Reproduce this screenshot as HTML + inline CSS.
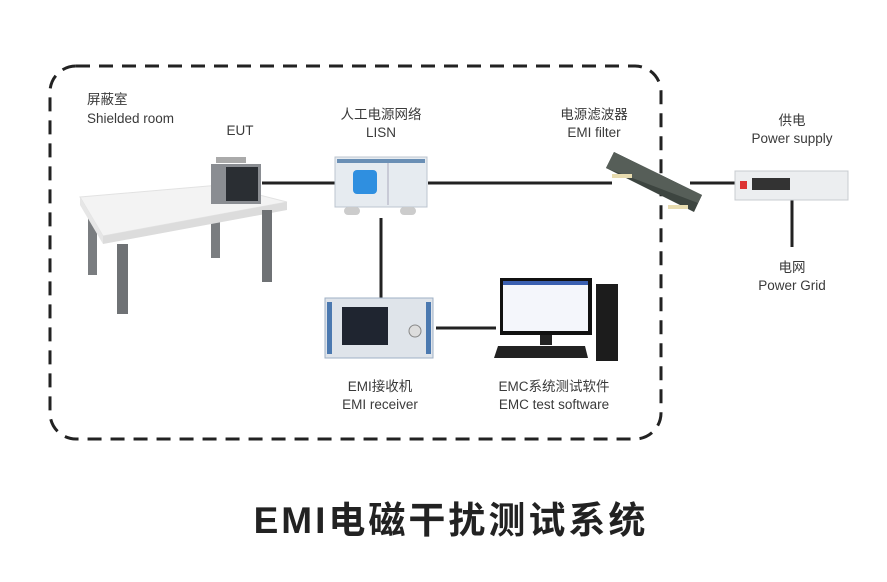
<!DOCTYPE html>
<html><head><meta charset="utf-8"><style>
html,body{margin:0;padding:0;background:#fff;}
svg{display:block;}
text{font-family:"Liberation Sans","Noto Sans CJK SC",sans-serif;fill:#3a3a3a;font-size:13.5px;}
</style></head><body>
<svg width="887" height="582" viewBox="0 0 887 582" xmlns="http://www.w3.org/2000/svg">
<rect x="50" y="66" width="611" height="373" rx="26" fill="none" stroke="#222" stroke-width="3" stroke-dasharray="14 9"/>
<g stroke="#222" stroke-width="3">
<line x1="262" y1="183" x2="335" y2="183"/>
<line x1="428" y1="183" x2="612" y2="183"/>
<line x1="690" y1="183" x2="735" y2="183"/>
<line x1="381" y1="218" x2="381" y2="298"/>
<line x1="436" y1="328" x2="496" y2="328"/>
<line x1="792" y1="200" x2="792" y2="247"/>
</g>
<g>
<rect x="88" y="205" width="9" height="70" fill="#7a7d80"/>
<rect x="211" y="212" width="9" height="46" fill="#7a7d80"/>
<polygon points="80,197 220,185 287,202 103,236" fill="#f3f3f3" stroke="#e2e2e2"/>
<polygon points="80,197 103,236 103,244 80,205" fill="#e6e6e6"/>
<polygon points="103,236 287,202 287,210 103,244" fill="#dcdcdc"/>
<rect x="117" y="244" width="11" height="70" fill="#6f7275"/>
<rect x="262" y="210" width="10" height="72" fill="#6f7275"/>
</g>
<rect x="211" y="164" width="50" height="40" fill="#8a8d92"/>
<rect x="226" y="167" width="32" height="34" fill="#2a2e33"/>
<rect x="216" y="157" width="30" height="6" fill="#aaa"/>
<rect x="335" y="157" width="92" height="50" fill="#e6ebf0" stroke="#bcc5cf"/>
<rect x="337" y="159" width="88" height="4" fill="#6a8fb5"/>
<line x1="388" y1="163" x2="388" y2="205" stroke="#aab"/>
<rect x="353" y="170" width="24" height="24" rx="4" fill="#2f8fe0"/>
<rect x="344" y="207" width="16" height="8" rx="4" fill="#ccc"/>
<rect x="400" y="207" width="16" height="8" rx="4" fill="#ccc"/>
<!-- filter -->
<polygon points="606,168 614,152 702,195 694,212" fill="#3d4540"/>
<polygon points="606,168 614,152 702,195 698,203" fill="#565e58"/>
<rect x="612" y="174" width="20" height="4" fill="#e8dcb0"/>
<rect x="668" y="205" width="20" height="4" fill="#e8dcb0"/>
<rect x="735" y="171" width="113" height="29" fill="#eceef0" stroke="#c8ccd0"/>
<rect x="740" y="181" width="7" height="8" fill="#d33"/>
<rect x="752" y="178" width="38" height="12" fill="#333"/>
<rect x="325" y="298" width="108" height="60" fill="#dfe4ea" stroke="#9fb0c5"/>
<rect x="327" y="302" width="5" height="52" fill="#4b79b0"/>
<rect x="426" y="302" width="5" height="52" fill="#4b79b0"/>
<rect x="342" y="307" width="46" height="38" fill="#1f2530"/>
<circle cx="415" cy="331" r="6" fill="#ddd" stroke="#888"/>
<rect x="500" y="278" width="92" height="57" fill="#111"/>
<rect x="503" y="281" width="85" height="50" fill="#f4f6fb"/>
<rect x="503" y="281" width="85" height="4" fill="#3a5fb0"/>
<rect x="596" y="284" width="22" height="77" fill="#1c1c1c"/>
<rect x="540" y="335" width="12" height="10" fill="#222"/>
<polygon points="498,346 585,346 588,358 494,358" fill="#222"/>
<text x="87" y="104">屏蔽室</text>
<text x="87" y="123">Shielded room</text>
<text x="240" y="135" text-anchor="middle">EUT</text>
<text x="381" y="119" text-anchor="middle">人工电源网络</text>
<text x="381" y="137" text-anchor="middle">LISN</text>
<text x="594" y="119" text-anchor="middle">电源滤波器</text>
<text x="594" y="137" text-anchor="middle">EMI filter</text>
<text x="792" y="125" text-anchor="middle">供电</text>
<text x="792" y="143" text-anchor="middle">Power supply</text>
<text x="792" y="272" text-anchor="middle">电网</text>
<text x="792" y="290" text-anchor="middle">Power Grid</text>
<text x="380" y="391" text-anchor="middle">EMI接收机</text>
<text x="380" y="409" text-anchor="middle">EMI receiver</text>
<text x="554" y="391" text-anchor="middle">EMC系统测试软件</text>
<text x="554" y="409" text-anchor="middle">EMC test software</text>
<text x="451" y="533" text-anchor="middle" style="font-size:37px;font-weight:bold;fill:#222;letter-spacing:3px">EMI电磁干扰测试系统</text>
</svg>
</body></html>
